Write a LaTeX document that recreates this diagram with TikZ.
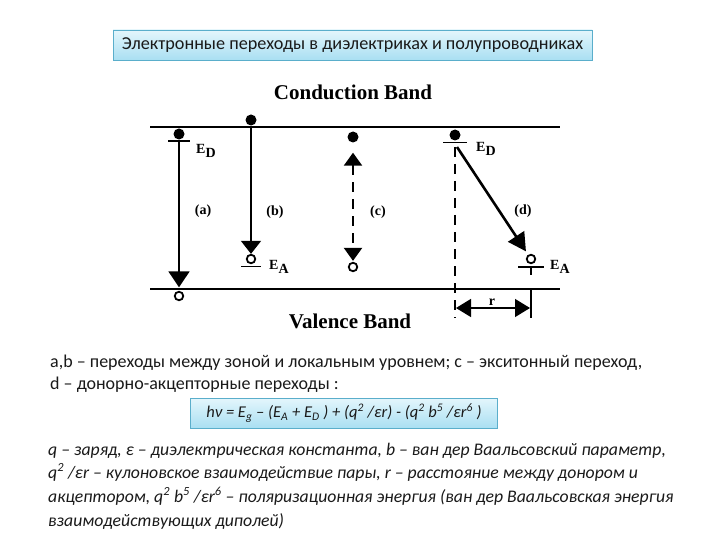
\documentclass[tikz,border=0pt]{standalone}
\usepackage{fontspec}
\setmainfont{Carlito}
\newfontfamily\lblfont{Liberation Serif}
\usetikzlibrary{arrows.meta,calc}
\definecolor{boxedge}{HTML}{5AAECB}
\definecolor{boxtop}{HTML}{E4F6FC}
\definecolor{boxbot}{HTML}{A9DFF2}
\definecolor{txt}{HTML}{1A1A1A}
\begin{document}
\begin{tikzpicture}[x=1pt,y=-1pt,
  band/.style={line width=2pt},
  vline/.style={line width=1.6pt},
  dline/.style={line width=2.3pt},
  barline/.style={line width=1.6pt},
  dot/.style={circle,fill=black,inner sep=0pt,minimum size=11pt},
  ring/.style={circle,draw=black,line width=1.8pt,inner sep=0pt,minimum size=8.5pt},
  dashpat/.style={dash pattern=on 10pt off 7pt},
  lbl/.style={font=\lblfont\bfseries\fontsize{14}{16}\selectfont,inner sep=0pt},
  bandlbl/.style={font=\lblfont\bfseries\fontsize{21}{24}\selectfont,inner sep=0pt},
  lvl/.style={font=\lblfont\bfseries\fontsize{14}{16}\selectfont,inner sep=0pt,anchor=west},
  bluebox/.style={draw=boxedge,line width=0.8pt,top color=boxtop,bottom color=boxbot,inner sep=0pt},
  bodytxt/.style={font=\fontsize{18}{21}\selectfont,text=txt,anchor=base west,inner sep=0pt},
  ittxt/.style={font=\itshape\fontsize{17.7}{21}\selectfont,text=txt,anchor=base west,inner sep=0pt}
]
\useasboundingbox (0,0) rectangle (720,540);
\fill[white] (0,0) rectangle (720,540);

% title
\node[bluebox,minimum width=479pt,minimum height=30pt,font=\fontsize{18.2}{20}\selectfont,text=txt] (title) at (352.5,45)
  {Электронные переходы в диэлектриках и полупроводниках};

% band labels
\node[bandlbl] (cb) at (353,92) {Conduction Band};
\node[bandlbl] (vb) at (350,321) {Valence Band};

% band lines
\coordinate (cbL) at (150,127);
\coordinate (cbR) at (560,127);
\coordinate (vbL) at (150,289);
\coordinate (vbR) at (560,289);
\draw[band] (cbL) -- (cbR);
\draw[band] (vbL) -- (vbR);

% (a)
\node[dot] (aD) at (179,134) {};
\draw[barline] ($(aD)+(-11,7)$) -- ++(22,0);
\node[ring] (aA) at (179,296) {};
\draw[vline,-{Triangle[width=21pt,length=16pt]},shorten >=3.5pt] (aD) -- (aA);
\node[lvl] (aED) at (196,151) {E\raisebox{-3.5pt}{D}};
\node[lbl] (la) at (203,211) {(a)};

% (b)
\node[dot] (bD) at (251,120) {};
\node[ring] (bA) at (251,259) {};
\draw[barline] ($(bA)+(-10,7.5)$) -- ++(20,0);
\draw[vline,-{Triangle[width=20pt,length=13pt]}] (bD) -- (bA);
\node[lvl] (bEA) at (269,267) {E\raisebox{-3.5pt}{A}};
\node[lbl] (lb) at (275,212) {(b)};

% (c)
\node[dot] (cD) at (353,137) {};
\node[ring] (cA) at (353,267) {};
\draw[dline,dashpat,{Triangle[width=18pt,length=13pt]}-{Triangle[width=18pt,length=13pt]},shorten <=10pt,shorten >=1pt] (cD) -- (cA);
\node[lbl] (lc) at (378,212) {(c)};

% (d)
\node[dot] (dD) at (455,135) {};
\draw[barline] ($(dD)+(-12,7.5)$) -- ++(24,0);
\coordinate (dStart) at ($(dD)+(2,12)$);
\node[ring] (dA) at (531,259) {};
\draw[barline] ($(dA)+(-13,8)$) -- ++(26,0);
\draw[vline] ($(dA)+(0,8)$) -- ++(0,8);
\draw[line width=2.6pt,-{Triangle[width=19pt,length=18pt]},shorten >=4pt] (dStart) -- (dA);
\node[lvl] (dED) at (476,149) {E\raisebox{-3.5pt}{D}};
\node[lvl] (dEA) at (550,267) {E\raisebox{-3.5pt}{A}};
\node[lbl] (ld) at (523,211) {(d)};

% dashed vertical and r dimension
\coordinate (dBot) at (455,318);
\draw[dline,dashpat] ($(dD)+(0,12)$) -- (dBot);
\coordinate (rTop) at (531,290);
\coordinate (rBot) at (531,318);
\draw[dline] (rTop) -- (rBot);
\coordinate (rL) at (456,308);
\coordinate (rR) at (530,308);
\draw[line width=1.3pt,{Triangle[width=18pt,length=15pt]}-{Triangle[width=18pt,length=15pt]}] (rL) -- (rR);
\node[lbl] (rlab) at (492,302) {r};

% body text
\node[bodytxt] (t1) at (50,367) {a,b – переходы между зоной и локальным уровнем; с – экситонный переход,};
\node[bodytxt] (t2) at (50,389) {d – донорно-акцепторные переходы :};

\node[bluebox,minimum width=307pt,minimum height=30pt,font=\itshape\fontsize{16.5}{19}\selectfont,text=txt] (formula) at (344,413)
  {hν = E\textsubscript{g} – (E\textsubscript{A} + E\textsubscript{D} ) + (q\textsuperscript{2} /εr) - (q\textsuperscript{2} b\textsuperscript{5} /εr\textsuperscript{6} )};

\node[ittxt] (i1) at (48,455) {q – заряд, ε – диэлектрическая константа, b – ван дер Ваальсовский параметр,};
\node[ittxt] (i2) at (48,478) {q\textsuperscript{2} /εr – кулоновское взаимодействие пары, r – расстояние между донором и};
\node[ittxt] (i3) at (48,502) {акцептором, q\textsuperscript{2} b\textsuperscript{5} /εr\textsuperscript{6} – поляризационная энергия (ван дер Ваальсовская энергия};
\node[ittxt] (i4) at (48,526) {взаимодействующих диполей)};
\end{tikzpicture}
\end{document}
